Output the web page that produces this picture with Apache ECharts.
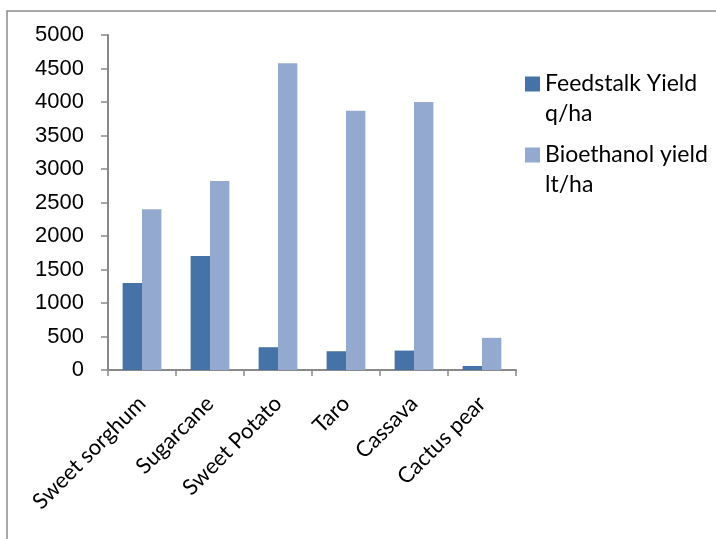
<!DOCTYPE html>
<html><head><meta charset="utf-8">
<script src="https://cdn.jsdelivr.net/npm/echarts@6/dist/echarts.min.js"></script>
<style>html,body{margin:0;padding:0;background:#fff}#c{width:716px;height:539px}</style>
</head><body><div id="c"></div>
<script>
const categories = ["Sweet sorghum", "Sugarcane", "Sweet Potato", "Taro", "Cassava", "Cactus pear"];
const feedstalkYield = [1300, 1700, 340, 280, 290, 60];
const bioethanolYield = [2400, 2820, 4580, 3870, 4000, 480];
const seriesNames = ["Feedstalk Yield\nq/ha", "Bioethanol yield\nlt/ha"];
const yTicks = { min: 0, max: 5000, interval: 500 };

const chart = echarts.init(document.getElementById('c'));
const axisGray = '#898989';
chart.setOption({
  animation: false,
  graphic: [{ type: 'rect', shape: { x: 7, y: 11, width: 730, height: 560 }, style: { fill: 'none', stroke: '#8c8c8c', lineWidth: 1.5 }, silent: true }],
  grid: { left: 108, right: 200, top: 35, bottom: 169, containLabel: false },
  legend: {
    orient: 'vertical', left: 525, top: 39, padding: 0, itemWidth: 15, itemHeight: 15, itemGap: -19,
    icon: 'rect',
    formatter: name => ' \n' + name,
    textStyle: { fontFamily: 'Lato', fontSize: 23, color: '#000', lineHeight: 30 },
    data: seriesNames
  },
  xAxis: {
    type: 'category', data: categories,
    axisLine: { lineStyle: { color: axisGray, width: 2 } },
    axisTick: { show: true, length: 6, lineStyle: { color: axisGray, width: 1.5 } },
    axisLabel: { rotate: 45, interval: 0, margin: 30, fontFamily: 'Lato', fontSize: 22, color: '#000' }
  },
  yAxis: {
    type: 'value', min: yTicks.min, max: yTicks.max, interval: yTicks.interval,
    splitLine: { show: false },
    axisLine: { show: true, lineStyle: { color: axisGray, width: 2 } },
    axisTick: { show: true, length: 7, lineStyle: { color: axisGray, width: 1.5 } },
    axisLabel: { margin: 24, fontFamily: 'Liberation Sans', fontSize: 22, color: '#000', formatter: v => String(v) }
  },
  series: [
    { name: seriesNames[0], type: 'bar', data: feedstalkYield, barGap: '0%', barCategoryGap: '43%',
      itemStyle: { color: '#4572A7' } },
    { name: seriesNames[1], type: 'bar', data: bioethanolYield, barGap: '0%', barCategoryGap: '43%',
      itemStyle: { color: '#93A9CF' } }
  ]
});
</script></body></html>
